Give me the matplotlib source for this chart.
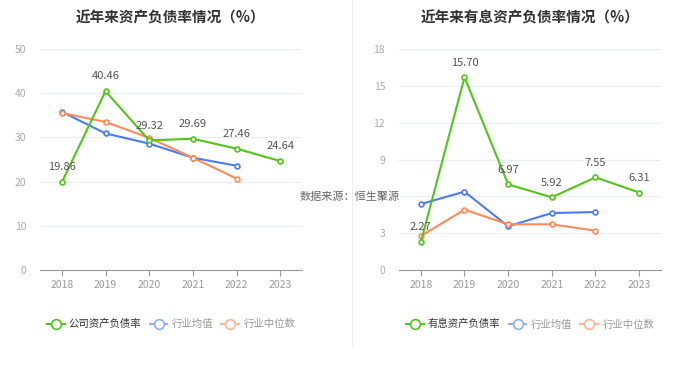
import matplotlib
matplotlib.use('Agg')
import matplotlib.pyplot as plt
from matplotlib.lines import Line2D

plt.rcParams['font.family'] = ['Noto Sans CJK SC', 'DejaVu Sans']

years = ['2018', '2019', '2020', '2021', '2022', '2023']

# left chart: asset-liability ratio
company_ratio = [19.86, 40.46, 29.32, 29.69, 27.46, 24.64]
industry_mean = [35.8, 30.9, 28.6, 25.4, 23.6]
industry_median = [35.5, 33.5, 29.9, 25.4, 20.7]

# right chart: interest-bearing asset-liability ratio
company_ib = [2.27, 15.70, 6.97, 5.92, 7.55, 6.31]
ib_mean = [5.37, 6.38, 3.56, 4.64, 4.72]
ib_median = [2.77, 4.91, 3.72, 3.72, 3.2]

GREEN = '#52c41a'
BLUE = '#4a7bf0'
ORANGE = '#ff8a5c'


def draw(ax, title, comp, mean, median, ymax, step, legend_name):
    x = range(len(years))
    ax.set_xlim(-0.5, len(years) - 0.5)
    ax.set_ylim(0, ymax)
    ax.set_yticks(range(0, ymax + 1, step))
    ax.set_xticks(list(x))
    ax.set_xticklabels(years)
    ax.grid(axis='y', color='#e8ecf4', linewidth=0.8)
    ax.set_axisbelow(True)
    for s in ['top', 'right', 'left']:
        ax.spines[s].set_visible(False)
    ax.spines['bottom'].set_color('#999999')
    ax.tick_params(axis='y', length=0, colors='#aaaaaa', labelsize=7.5, pad=10)
    ax.tick_params(axis='x', length=4, color='#999999', colors='#999999', labelsize=7.5)

    mk = dict(marker='o', markersize=3.5, markerfacecolor='white', markeredgewidth=1.2, linewidth=1.5)
    ax.plot(range(len(mean)), mean, color=BLUE, **mk)
    ax.plot(range(len(median)), median, color=ORANGE, **mk)
    ax.plot(range(len(comp)), comp, color=GREEN, **mk)
    for i, v in enumerate(comp):
        ax.annotate('%.2f' % v, (i, v), xytext=(0, 7), textcoords='offset points',
                    ha='center', va='bottom', fontsize=8, color='#555555')
    ax.set_title(title, fontsize=10.5, fontweight='bold', color='#333333', pad=19)

    handles = [Line2D([], [], color=c, marker='o', markersize=7, markerfacecolor='white',
                      markeredgewidth=1.2, linewidth=1.5) for c in [GREEN, '#8fb0f7', '#ffb497']]
    leg = ax.legend(handles, [legend_name, '行业均值', '行业中位数'], loc='upper center',
                    bbox_to_anchor=(0.5, -0.18), ncol=3, frameon=False, fontsize=7.5,
                    handlelength=1.7, handletextpad=0.4, columnspacing=0.8)
    for t, c in zip(leg.get_texts(), ['#333333', '#999999', '#999999']):
        t.set_color(c)


fig = plt.figure(figsize=(7, 3.77), dpi=100)
ax1 = fig.add_axes([40 / 700, 107 / 377, 262 / 700, 221 / 377])
ax2 = fig.add_axes([399 / 700, 107 / 377, 262 / 700, 221 / 377])

draw(ax1, '近年来资产负债率情况（%）', company_ratio, industry_mean, industry_median, 50, 10, '公司资产负债率')
draw(ax2, '近年来有息资产负债率情况（%）', company_ib, ib_mean, ib_median, 18, 3, '有息资产负债率')

fig.add_artist(Line2D([352 / 700, 352 / 700], [30 / 377, 1.0], color='#eeeeee', linewidth=0.8))
fig.text(350 / 700, 1 - 197 / 377, '数据来源：恒生聚源', ha='center', va='center', fontsize=8, color='#666666')

fig.savefig('out.png', dpi=100)
